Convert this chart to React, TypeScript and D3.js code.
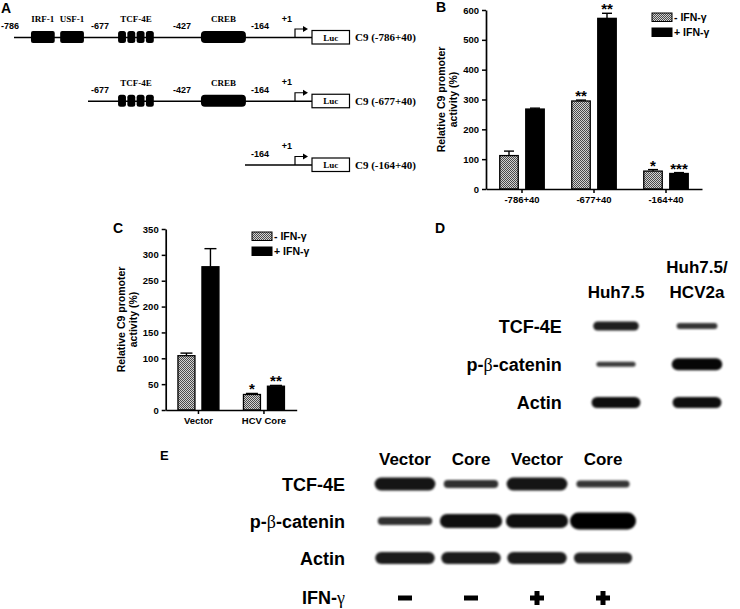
import React, { useEffect, useRef } from "react";
import * as d3 from "d3";

const SANS = "'Liberation Sans', Arial, sans-serif";
const SERIF = "'Liberation Serif', 'Times New Roman', serif";

// ---------- panel A: promoter constructs ----------
const constructNames = ["C9 (-786+40)", "C9 (-677+40)", "C9 (-164+40)"];
const constructStarts = [-786, -677, -164];
const siteLabels = ["-786", "-677", "-427", "-164"];
const siteBp = [-786, -677, -427, -164];
const siteDx = [-4, 12, 0, 15];
const boxNames = ["IRF-1", "USF-1", "TCF-4E", "CREB"];
const boxStart = [-761, -718, -597, -348];
const boxEnd = [-726, -683, -502, -161];
const boxRepeats = [1, 1, 4, 1];

// ---------- panel B ----------
const bCategories = ["-786+40", "-677+40", "-164+40"];
const bMinus = [112, 295, 60];
const bMinusErr = [15, 3, 5];
const bPlus = [268, 572, 52];
const bPlusErr = [3, 17, 3];
const bMinusStars = ["", "**", "*"];
const bPlusStars = ["", "**", "***"];
const bTicks = [0, 100, 200, 300, 400, 500, 600];

// ---------- panel C ----------
const cCategories = ["Vector", "HCV Core"];
const cMinus = [105, 30];
const cMinusErr = [5, 2];
const cPlus = [277, 46];
const cPlusErr = [35, 1.5];
const cMinusStars = ["", "*"];
const cPlusStars = ["", "**"];
const cTicks = [0, 50, 100, 150, 200, 250, 300, 350];

const seriesLabels = ["- IFN-γ", "+ IFN-γ"];

// ---------- panel D (relative band intensity) ----------
const dLanes = ["Huh7.5", "Huh7.5/HCV2a"];
const dProteins = ["TCF-4E", "p-β-catenin", "Actin"];
const dTcf = [0.6, 0.3];
const dCatenin = [0.2, 0.9];
const dActin = [0.8, 0.8];

// ---------- panel E ----------
const eLanes = ["Vector", "Core", "Vector", "Core"];
const eIfn = ["−", "−", "+", "+"];
const eTcf = [0.71, 0.36, 0.71, 0.29];
const eCatenin = [0.36, 0.79, 0.79, 1.0];
const eActin = [0.64, 0.64, 0.64, 0.57];

interface BarPanelProps {
  id: string;
  cats: string[];
  minus: number[];
  minusErr: number[];
  plus: number[];
  plusErr: number[];
  minusStars: string[];
  plusStars: string[];
  ticks: number[];
  left: number;
  right: number;
  top: number;
  bottom: number;
  barWidth: number;
  barGap: number;
  capWidth: number;
  legendX: number;
  legendY: number;
  titleX: number;
}

const BarPanel = (p: BarPanelProps) => {
  const yRef = useRef<SVGGElement>(null);
  const xRef = useRef<SVGGElement>(null);

  const x = d3.scaleBand().domain(p.cats).range([p.left, p.right]);
  const inner = d3
    .scaleBand()
    .domain(["minus", "plus"])
    .range([-(p.barWidth + p.barGap / 2), p.barWidth + p.barGap / 2])
    .paddingInner(p.barGap / (p.barWidth + p.barGap));
  const y = d3
    .scaleLinear()
    .domain([0, d3.max(p.ticks) as number])
    .range([p.bottom, p.top]);

  useEffect(() => {
    if (!yRef.current || !xRef.current) return;
    const ya = d3
      .select(yRef.current)
      .call(d3.axisLeft(y).tickValues(p.ticks).tickSize(4).tickSizeOuter(0) as any);
    const xa = d3
      .select(xRef.current)
      .call(d3.axisBottom(x).tickSize(4).tickSizeOuter(0) as any);
    [ya, xa].forEach((g) => {
      g.selectAll("path").attr("stroke", "#000").attr("stroke-width", 1.7);
      g.selectAll("line").attr("stroke", "#000").attr("stroke-width", 1.5);
      g.selectAll("text")
        .attr("font-family", SANS)
        .attr("font-weight", "bold")
        .attr("fill", "#000");
    });
    ya.selectAll("text").attr("font-size", 9.5);
    xa.selectAll("text").attr("font-size", 9.5);
  }, []);

  const bars: { key: string; cat: string; s: string; v: number; e: number; star: string }[] = [];
  p.cats.forEach((c, i) => {
    bars.push({ key: c + "m", cat: c, s: "minus", v: p.minus[i], e: p.minusErr[i], star: p.minusStars[i] });
    bars.push({ key: c + "p", cat: c, s: "plus", v: p.plus[i], e: p.plusErr[i], star: p.plusStars[i] });
  });
  const cx = (d: { cat: string; s: string }) =>
    (x(d.cat) as number) + x.bandwidth() / 2 + (inner(d.s) as number) + inner.bandwidth() / 2;
  const midY = (p.top + p.bottom) / 2;

  return (
    <g>
      <defs>
        <pattern id={`${p.id}-hatch`} width={2} height={2} patternUnits="userSpaceOnUse">
          <rect width={2} height={2} fill="#d2d2d2" />
          <rect width={1} height={1} fill="#4a4a4a" />
          <rect x={1} y={1} width={1} height={1} fill="#4a4a4a" />
        </pattern>
      </defs>
      {bars.map((d) => (
        <g key={d.key}>
          <line
            x1={cx(d)}
            x2={cx(d)}
            y1={y(d.v)}
            y2={y(d.v + d.e)}
            stroke="#000"
            strokeWidth={1.4}
          />
          <line
            x1={cx(d) - p.capWidth / 2}
            x2={cx(d) + p.capWidth / 2}
            y1={y(d.v + d.e)}
            y2={y(d.v + d.e)}
            stroke="#000"
            strokeWidth={1.4}
          />
          <rect
            x={cx(d) - inner.bandwidth() / 2}
            y={y(d.v)}
            width={inner.bandwidth()}
            height={y(0) - y(d.v)}
            fill={d.s === "minus" ? `url(#${p.id}-hatch)` : "#000"}
            stroke="#000"
            strokeWidth={1.3}
          />
          {d.star && (
            <text
              x={cx(d)}
              y={y(d.v + d.e) + 1}
              textAnchor="middle"
              fontFamily={SANS}
              fontWeight="bold"
              fontSize={15}
            >
              {d.star}
            </text>
          )}
        </g>
      ))}
      <g ref={yRef} transform={`translate(${p.left},0)`} />
      <g ref={xRef} transform={`translate(0,${p.bottom})`} />
      {seriesLabels.map((s, i) => (
        <g key={s} transform={`translate(${p.legendX},${p.legendY + i * 15})`}>
          <rect
            width={20}
            height={8.5}
            fill={i === 0 ? `url(#${p.id}-hatch)` : "#000"}
            stroke="#000"
            strokeWidth={1}
          />
          <text x={22} y={8} fontFamily={SANS} fontWeight="bold" fontSize={10.5}>
            {s}
          </text>
        </g>
      ))}
      {["Relative C9 promoter", "activity (%)"].map((t, i) => (
        <text
          key={t}
          transform={`translate(${p.titleX + i * 11.6},${midY}) rotate(-90)`}
          textAnchor="middle"
          fontFamily={SANS}
          fontWeight="bold"
          fontSize={10.5}
        >
          {t}
        </text>
      ))}
    </g>
  );
};

const Promoter = () => {
  const px = d3
    .scaleLinear()
    .domain([-786, -677, -427, -164, 1, 40])
    .range([14, 88, 182, 245, 295, 312]);
  const row = d3.scalePoint().domain(constructNames).range([37.5, 165]);
  return (
    <g>
      {constructNames.map((name, r) => {
        const ly = row(name) as number;
        const start = constructStarts[r];
        return (
          <g key={name}>
            <line x1={px(start)} x2={px(40)} y1={ly} y2={ly} stroke="#000" strokeWidth={1.5} />
            {boxNames.map((b, i) => {
              if (boxStart[i] < start) return null;
              const sub = d3
                .scaleBand()
                .domain(d3.range(boxRepeats[i]).map(String))
                .range([px(boxStart[i]), px(boxEnd[i])])
                .paddingInner(boxRepeats[i] > 1 ? 0.15 : 0);
              const rx = boxRepeats[i] > 1 ? 2.5 : b === "CREB" ? 4 : 2;
              return (
                <g key={b}>
                  {sub.domain().map((k) => (
                    <rect
                      key={k}
                      x={sub(k)}
                      y={ly - 6.5}
                      width={sub.bandwidth()}
                      height={12}
                      rx={rx}
                      fill="#000"
                    />
                  ))}
                  <text
                    x={(px(boxStart[i]) + px(boxEnd[i])) / 2}
                    y={ly - 15.5}
                    textAnchor="middle"
                    fontFamily={SERIF}
                    fontWeight="bold"
                    fontSize={9}
                  >
                    {b}
                  </text>
                </g>
              );
            })}
            {siteLabels.map((s, i) =>
              siteBp[i] < start ? null : (
                <text
                  key={s}
                  x={px(siteBp[i]) + siteDx[i]}
                  y={ly - 8.5}
                  textAnchor="middle"
                  fontFamily={SANS}
                  fontWeight="bold"
                  fontSize={9}
                >
                  {s}
                </text>
              )
            )}
            <text
              x={px(1) - 8}
              y={ly - 16}
              textAnchor="middle"
              fontFamily={SANS}
              fontWeight="bold"
              fontSize={9}
            >
              +1
            </text>
            <path
              d={`M${px(1)},${ly} V${ly - 8.5} H${px(1) + 10}`}
              fill="none"
              stroke="#000"
              strokeWidth={1.2}
            />
            <path d={`M${px(1) + 13},${ly - 8.5} l-5,-3 v6 z`} fill="#000" />
            <rect
              x={px(40)}
              y={ly - 7}
              width={37.5}
              height={13.5}
              fill="#fff"
              stroke="#000"
              strokeWidth={1.2}
            />
            <text
              x={px(40) + 18.75}
              y={ly + 3}
              textAnchor="middle"
              fontFamily={SERIF}
              fontWeight="bold"
              fontSize={9}
            >
              Luc
            </text>
            <text x={px(40) + 43} y={ly + 3.5} fontFamily={SERIF} fontWeight="bold" fontSize={11}>
              {name}
            </text>
          </g>
        );
      })}
    </g>
  );
};

interface BlotProps {
  lanes: string[];
  rows: string[];
  bands: number[][];
  laneRange: [number, number];
  rowRange: [number, number];
  thick: [number, number];
  wide: [number, number];
  labelRight: number;
  fontSize: number;
}

const Blot = (p: BlotProps) => {
  const lx = d3.scalePoint().domain(d3.range(p.lanes.length).map(String)).range(p.laneRange);
  const ry = d3.scalePoint().domain(p.rows).range(p.rowRange);
  const th = d3.scaleLinear().domain([0, 1]).range(p.thick);
  const wd = d3.scaleLinear().domain([0, 1]).range(p.wide);
  const op = d3.scaleLinear().domain([0, 1]).range([0.7, 1]);
  return (
    <g>
      {p.rows.map((r, ri) => (
        <g key={r}>
          <text
            x={p.labelRight}
            y={(ry(r) as number) + 6.5}
            textAnchor="end"
            fontFamily={SANS}
            fontWeight="bold"
            fontSize={p.fontSize}
          >
            {r.includes("β") ? (
              <>
                p-<tspan fontFamily={SERIF} fontWeight="normal">β</tspan>-catenin
              </>
            ) : (
              r
            )}
          </text>
          {p.bands[ri].map((v, li) => {
            const w = wd(v);
            const h = th(v);
            return (
              <rect
                key={li}
                x={(lx(String(li)) as number) - w / 2}
                y={(ry(r) as number) - h / 2}
                width={w}
                height={h}
                rx={h / 2}
                fill="#000"
                opacity={op(v)}
                filter="url(#blur)"
              />
            );
          })}
        </g>
      ))}
    </g>
  );
};

const panelLabel = (t: string, x: number, y: number, size = 14) => (
  <text x={x} y={y} fontFamily={SANS} fontWeight="bold" fontSize={size}>
    {t}
  </text>
);

export default function App() {
  const dx = d3.scalePoint().domain(d3.range(dLanes.length).map(String)).range([616, 697]);
  const ex = d3.scalePoint().domain(d3.range(eLanes.length).map(String)).range([405, 603]);
  return (
    <svg
      width={740}
      height={609}
      style={{ position: "absolute", left: 0, top: 0, background: "#fff" }}
    >
      <defs>
        <filter id="blur" x="-20%" y="-60%" width="140%" height="220%">
          <feGaussianBlur stdDeviation={0.9} />
        </filter>
      </defs>

      {panelLabel("A", 1, 12.5)}
      <Promoter />

      {panelLabel("B", 436, 12)}
      <BarPanel
        id="b"
        cats={bCategories}
        minus={bMinus}
        minusErr={bMinusErr}
        plus={bPlus}
        plusErr={bPlusErr}
        minusStars={bMinusStars}
        plusStars={bPlusStars}
        ticks={bTicks}
        left={486}
        right={702}
        top={10}
        bottom={189}
        barWidth={18.5}
        barGap={7.5}
        capWidth={10}
        legendX={652}
        legendY={13}
        titleX={445.4}
      />

      {panelLabel("C", 113, 232.5)}
      <BarPanel
        id="c"
        cats={cCategories}
        minus={cMinus}
        minusErr={cMinusErr}
        plus={cPlus}
        plusErr={cPlusErr}
        minusStars={cMinusStars}
        plusStars={cPlusStars}
        ticks={cTicks}
        left={165.7}
        right={296.7}
        top={229}
        bottom={410}
        barWidth={17}
        barGap={7}
        capWidth={12}
        legendX={252}
        legendY={232}
        titleX={125.4}
      />

      {panelLabel("D", 435, 233)}
      <text x={dx("0")} y={298} textAnchor="middle" fontFamily={SANS} fontWeight="bold" fontSize={17}>
        {dLanes[0]}
      </text>
      <text x={dx("1")} y={273} textAnchor="middle" fontFamily={SANS} fontWeight="bold" fontSize={17}>
        {dLanes[1].split("/")[0] + "/"}
      </text>
      <text x={dx("1")} y={298} textAnchor="middle" fontFamily={SANS} fontWeight="bold" fontSize={17}>
        {dLanes[1].split("/")[1]}
      </text>
      <Blot
        lanes={dLanes}
        rows={dProteins}
        bands={[dTcf, dCatenin, dActin]}
        laneRange={[616, 697]}
        rowRange={[326, 402.5]}
        thick={[3, 13]}
        wide={[36, 52]}
        labelRight={561.7}
        fontSize={18}
      />

      {panelLabel("E", 160, 460, 13)}
      {eLanes.map((l, i) => (
        <text
          key={i}
          x={ex(String(i))}
          y={465}
          textAnchor="middle"
          fontFamily={SANS}
          fontWeight="bold"
          fontSize={17}
        >
          {l}
        </text>
      ))}
      <Blot
        lanes={eLanes}
        rows={dProteins}
        bands={[eTcf, eCatenin, eActin]}
        laneRange={[405, 603]}
        rowRange={[484, 558]}
        thick={[3, 17]}
        wide={[48, 66]}
        labelRight={345}
        fontSize={18}
      />
      <text x={345} y={604} textAnchor="end" fontFamily={SANS} fontWeight="bold" fontSize={18}>
        IFN-<tspan fontFamily={SERIF} fontWeight="normal">γ</tspan>
      </text>
      {eIfn.map((s, i) => {
        const cx = ex(String(i)) as number;
        return (
          <g key={i}>
            <rect x={cx - 7} y={595.5} width={14} height={5} fill="#000" />
            {s === "+" && <rect x={cx - 2.5} y={591} width={5} height={14} fill="#000" />}
          </g>
        );
      })}
    </svg>
  );
}
